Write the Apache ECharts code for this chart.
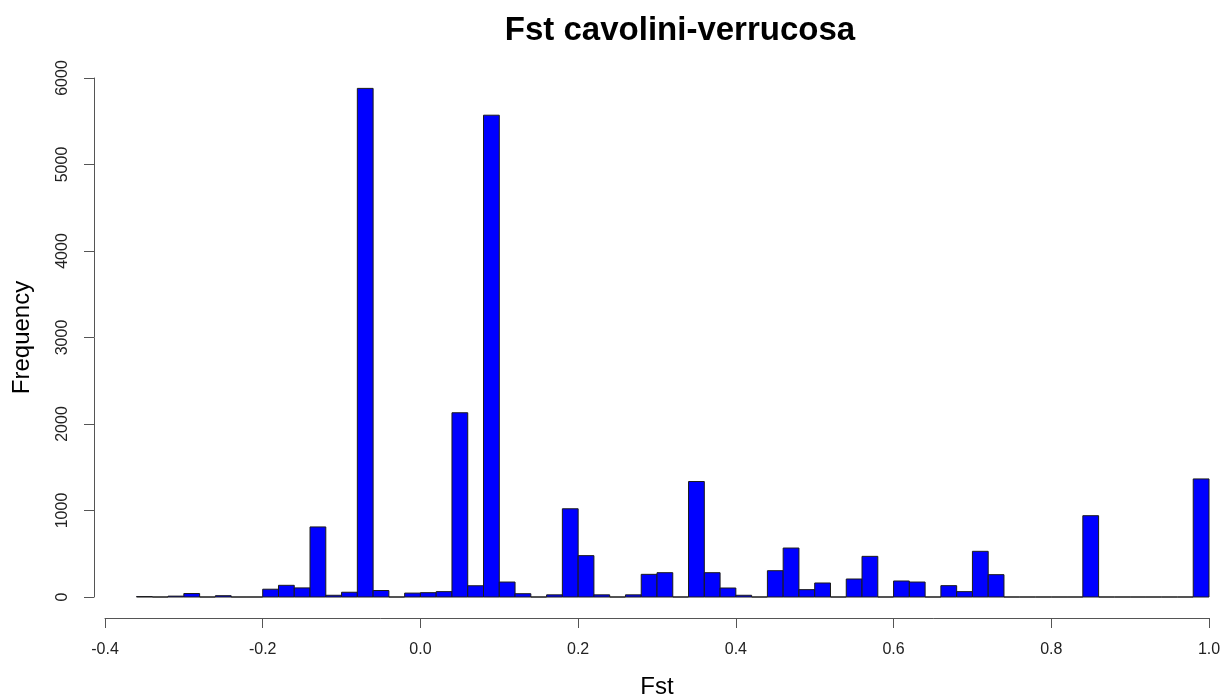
<!DOCTYPE html>
<html lang="en">
<head>
  <meta charset="UTF-8">
  <title>Fst cavolini-verrucosa</title>
  <style>
    html, body { margin: 0; padding: 0; background: #fff; }
    #chart { width: 1230px; height: 699px; }
  </style>
</head>
<body>
  <div id="chart"></div>
  <script src="https://cdn.jsdelivr.net/npm/echarts@6/dist/echarts.min.js"></script>
  <script>
    // histogram bin edges (width 0.02)
    var binEdges = [
      -0.36, -0.34, -0.32, -0.30, -0.28, -0.26, -0.24, -0.22, -0.20, -0.18,
      -0.16, -0.14, -0.12, -0.10, -0.08, -0.06, -0.04, -0.02, 0.00, 0.02,
      0.04, 0.06, 0.08, 0.10, 0.12, 0.14, 0.16, 0.18, 0.20, 0.22,
      0.24, 0.26, 0.28, 0.30, 0.32, 0.34, 0.36, 0.38, 0.40, 0.42,
      0.44, 0.46, 0.48, 0.50, 0.52, 0.54, 0.56, 0.58, 0.60, 0.62,
      0.64, 0.66, 0.68, 0.70, 0.72, 0.74, 0.76, 0.78, 0.80, 0.82,
      0.84, 0.86, 0.88, 0.90, 0.92, 0.94, 0.96, 0.98, 1.00
    ]
    // frequency per bin
    var counts = [
      5, 0, 10, 40, 0, 15, 0, 0, 90, 135,
      105, 810, 20, 55, 5880, 75, 0, 45, 50, 62,
      2130, 130, 5570, 173, 38, 0, 25, 1020, 478, 25,
      0, 25, 262, 281, 0, 1335, 281, 104, 20, 0,
      304, 566, 85, 162, 0, 208, 470, 0, 185, 173,
      0, 131, 62, 528, 258, 0, 0, 0, 0, 0,
      940, 0, 0, 0, 0, 0, 0, 1365
    ]
    var xTicks = [-0.4, 1.0, 0.2]   // min, max, step
    var yTicks = [0, 6000, 1000]

    var data = counts.map(function (c, i) {
      return [binEdges[i], binEdges[i + 1], c]
    })

    var font = '"Liberation Sans", Arial, sans-serif'
    var axisColor = '#555'

    var option = {
      animation: false,
      backgroundColor: '#fff',
      title: {
        text: 'Fst cavolini-verrucosa',
        left: 675,
        top: 9,
        textAlign: 'center',
        textStyle: { fontFamily: font, fontSize: 33, fontWeight: 'bold', color: '#000' }
      },
      grid: { left: 105, right: 21, top: 78, bottom: 102, outerBoundsMode: 'none' },
      xAxis: {
        type: 'value',
        min: xTicks[0],
        max: xTicks[1],
        interval: xTicks[2],
        offset: 21,
        name: 'Fst',
        nameLocation: 'middle',
        nameGap: 57,
        nameTextStyle: { fontFamily: font, fontSize: 24, color: '#000' },
        axisLine: { show: true, onZero: false, lineStyle: { color: axisColor, width: 1 } },
        axisTick: { show: true, length: 10, lineStyle: { color: axisColor } },
        axisLabel: {
          margin: 24,
          fontFamily: font,
          fontSize: 16,
          color: '#222',
          formatter: function (v) { return (Math.abs(v) < 1e-9 ? 0 : v).toFixed(1) }
        },
        splitLine: { show: false }
      },
      yAxis: {
        type: 'value',
        min: yTicks[0],
        max: yTicks[1],
        interval: yTicks[2],
        offset: 11,
        name: 'Frequency',
        nameLocation: 'middle',
        nameRotate: 90,
        nameGap: 60,
        nameTextStyle: { fontFamily: font, fontSize: 24, color: '#000' },
        axisLine: { show: true, onZero: false, lineStyle: { color: axisColor, width: 1 } },
        axisTick: { show: true, length: 10, lineStyle: { color: axisColor } },
        axisLabel: {
          rotate: 90,
          margin: 23,
          fontFamily: font,
          fontSize: 16,
          color: '#222',
          formatter: function (v) { return String(v) }
        },
        splitLine: { show: false }
      },
      series: [{
        type: 'custom',
        encode: { x: [0, 1], y: 2 },
        data: data,
        renderItem: function (params, api) {
          var p0 = api.coord([api.value(0), api.value(2)])
          var p1 = api.coord([api.value(1), 0])
          return {
            type: 'rect',
            shape: { x: p0[0], y: p0[1], width: p1[0] - p0[0], height: p1[1] - p0[1] },
            style: { fill: '#0000ff', stroke: '#1a1a1a', lineWidth: 1 }
          }
        }
      }]
    }

    var chart = echarts.init(document.getElementById('chart'))
    chart.setOption(option)
  </script>
</body>
</html>
